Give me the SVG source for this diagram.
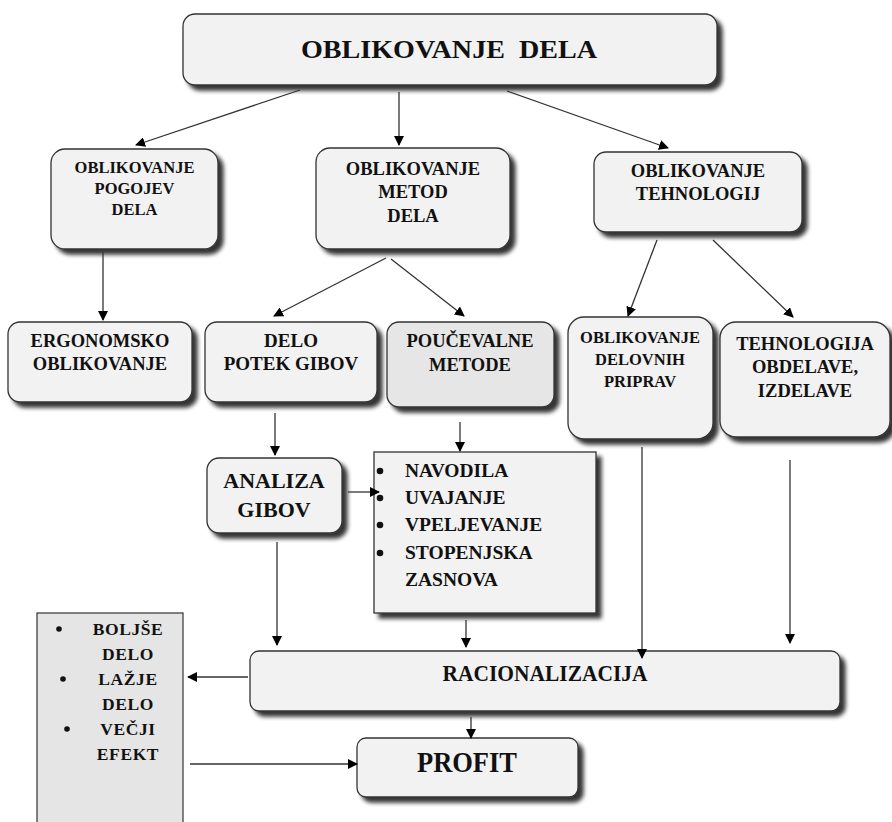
<svg xmlns="http://www.w3.org/2000/svg" width="892" height="822" viewBox="0 0 892 822">
<defs>
<filter id="sh" x="-10%" y="-20%" width="130%" height="150%">
<feGaussianBlur in="SourceAlpha" stdDeviation="2.2"/>
<feOffset dx="5" dy="5" result="b"/>
<feComponentTransfer><feFuncA type="linear" slope="0.8"/></feComponentTransfer>
<feMerge><feMergeNode/><feMergeNode in="SourceGraphic"/></feMerge>
</filter>
<marker id="ar" markerWidth="10" markerHeight="10" refX="9" refY="5" orient="auto" markerUnits="userSpaceOnUse" viewBox="0 0 10 10">
<path d="M0,0 L10,5 L0,10 z" fill="#000"/>
</marker>
<style>
.bx{fill:#f2f2f2;stroke:#333;stroke-width:1.3;filter:url(#sh)}
.dk{fill:#e6e6e6}
.t{font-weight:bold;fill:#111;text-anchor:middle}
.l{text-anchor:start}
.c{stroke:#333;stroke-width:1.3;fill:none;marker-end:url(#ar)}
</style>
</defs>
<rect width="892" height="822" fill="#fff"/>

<g font-family="Liberation Serif, Times New Roman, serif">
<g id="oblikovanje-dela">
<rect class="bx" x="183" y="14" width="534" height="71" rx="12"/>
<text class="t" x="449" y="58" font-size="25" textLength="296" lengthAdjust="spacingAndGlyphs" xml:space="preserve">OBLIKOVANJE  DELA</text>
</g>

<g id="pogojev">
<rect class="bx" x="51" y="149" width="167" height="100" rx="14"/>
<text class="t" font-size="16.5"><tspan x="134.5" y="173">OBLIKOVANJE</tspan><tspan x="134.5" y="194">POGOJEV</tspan><tspan x="134.5" y="215">DELA</tspan></text>
</g>

<g id="metod">
<rect class="bx" x="316" y="148" width="194" height="101" rx="14"/>
<text class="t" font-size="18.5"><tspan x="413" y="175">OBLIKOVANJE</tspan><tspan x="413" y="198">METOD</tspan><tspan x="413" y="222">DELA</tspan></text>
</g>

<g id="tehnologij">
<rect class="bx" x="594" y="152" width="208" height="80" rx="12"/>
<text class="t" font-size="18.5"><tspan x="698" y="177">OBLIKOVANJE</tspan><tspan x="698" y="200">TEHNOLOGIJ</tspan></text>
</g>

<g id="ergonomsko">
<rect class="bx" x="8" y="322" width="184" height="80" rx="12"/>
<text class="t" font-size="18.5"><tspan x="100" y="347">ERGONOMSKO</tspan><tspan x="100" y="370">OBLIKOVANJE</tspan></text>
</g>

<g id="potek-gibov">
<rect class="bx" x="205" y="322" width="172" height="80" rx="12"/>
<text class="t" font-size="19"><tspan x="291" y="347">DELO</tspan><tspan x="291" y="370">POTEK GIBOV</tspan></text>
</g>

<g id="poucevalne">
<rect class="bx dk" x="387" y="322" width="167" height="85" rx="12"/>
<text class="t" font-size="18.5"><tspan x="470" y="347">POUČEVALNE</tspan><tspan x="470" y="371">METODE</tspan></text>
</g>

<g id="priprav">
<rect class="bx" x="568" y="317" width="145" height="122" rx="16"/>
<text class="t" font-size="16.5"><tspan x="640" y="343">OBLIKOVANJE</tspan><tspan x="640" y="365">DELOVNIH</tspan><tspan x="640" y="387">PRIPRAV</tspan></text>
</g>

<g id="tehnologija">
<rect class="bx" x="720" y="322" width="170" height="115" rx="16"/>
<text class="t" font-size="18.5"><tspan x="805" y="350">TEHNOLOGIJA</tspan><tspan x="805" y="373">OBDELAVE,</tspan><tspan x="805" y="397">IZDELAVE</tspan></text>
</g>

<g id="analiza">
<rect class="bx" x="207" y="458" width="135" height="75" rx="12"/>
<text class="t" font-size="22"><tspan x="274" y="488">ANALIZA</tspan><tspan x="274" y="517">GIBOV</tspan></text>
</g>

<g id="metode-list">
<rect class="bx" x="374" y="452" width="222" height="161"/>
<g fill="#111"><circle cx="380" cy="471" r="3.3"/><circle cx="380" cy="498" r="3.3"/><circle cx="380" cy="525" r="3.3"/><circle cx="380" cy="553" r="3.3"/></g>
<text class="t l" font-size="19.5"><tspan x="405" y="477">NAVODILA</tspan><tspan x="405" y="504">UVAJANJE</tspan><tspan x="405" y="531">VPELJEVANJE</tspan><tspan x="405" y="559">STOPENJSKA</tspan><tspan x="405" y="586">ZASNOVA</tspan></text>
</g>

<g id="rezultati">
<rect x="37" y="613" width="146" height="220" fill="#e5e5e5" stroke="#333" stroke-width="1.2"/>
<g fill="#111"><circle cx="59" cy="629" r="2.8"/><circle cx="63" cy="679" r="2.8"/><circle cx="67" cy="729" r="2.8"/></g>
<text class="t" font-size="17.5" letter-spacing="0.6"><tspan x="128" y="635">BOLJŠE</tspan><tspan x="128" y="660">DELO</tspan><tspan x="128" y="685">LAŽJE</tspan><tspan x="128" y="710">DELO</tspan><tspan x="128" y="735">VEČJI</tspan><tspan x="128" y="760">EFEKT</tspan></text>
</g>

<g id="racionalizacija">
<rect class="bx" x="250" y="651" width="590" height="60" rx="9"/>
<text class="t" x="545" y="681" font-size="24" textLength="205" lengthAdjust="spacingAndGlyphs">RACIONALIZACIJA</text>
</g>

<g id="profit">
<rect class="bx" x="357" y="738" width="221" height="59" rx="9"/>
<text class="t" x="467" y="772" font-size="29" textLength="100" lengthAdjust="spacingAndGlyphs">PROFIT</text>
</g>
</g>

<g id="connectors">
<line class="c" x1="300" y1="90" x2="136" y2="145"/>
<line class="c" x1="399" y1="92" x2="399" y2="145"/>
<line class="c" x1="507" y1="91" x2="668" y2="148"/>
<line class="c" x1="103" y1="252" x2="103" y2="320"/>
<line class="c" x1="386" y1="258" x2="274" y2="316"/>
<line class="c" x1="391" y1="259" x2="464" y2="316"/>
<line class="c" x1="657" y1="240" x2="628" y2="316"/>
<line class="c" x1="713" y1="240" x2="793" y2="317"/>
<line class="c" x1="275" y1="413" x2="275" y2="455"/>
<line class="c" x1="460" y1="422" x2="460" y2="451"/>
<line class="c" x1="348" y1="492" x2="379" y2="492"/>
<line class="c" x1="277" y1="542" x2="277" y2="645"/>
<line class="c" x1="466" y1="620" x2="466" y2="647"/>
<line class="c" x1="642" y1="447" x2="642" y2="658"/>
<line class="c" x1="790" y1="460" x2="790" y2="643"/>
<line class="c" x1="248" y1="677" x2="188" y2="677"/>
<line class="c" x1="471" y1="717" x2="471" y2="738"/>
<line class="c" x1="190" y1="764" x2="357" y2="764"/>
</g>
</svg>
